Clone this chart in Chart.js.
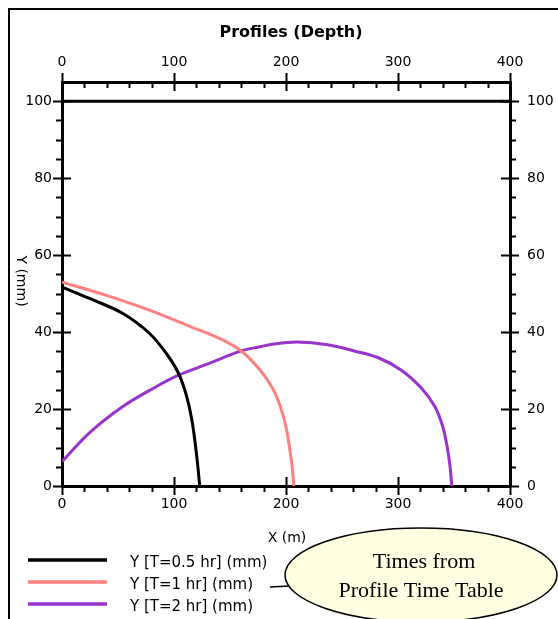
<!DOCTYPE html>
<html>
<head>
<meta charset="utf-8">
<script src="https://cdn.jsdelivr.net/npm/chart.js@4.4.0/dist/chart.umd.min.js"></script>
<style>
  html, body { margin: 0; padding: 0; background: #fff; }
  #wrap { width: 558px; height: 619px; }
</style>
</head>
<body>
<div id="wrap"><canvas id="profileChart" width="558" height="619"></canvas></div>
<script>
// values (x in m, y in mm)
let x05 = [0, 24, 54, 78, 93, 104, 111, 116, 120, 123];
let y05 = [51.7, 48.8, 44.9, 39.7, 34.5, 29.3, 23.6, 17.1, 8.5, 0];
let x1 = [0, 39, 78, 114, 141, 160, 177, 188, 195, 200, 203, 205.5, 207];
let y1 = [53, 49.6, 45.7, 41.5, 38.3, 35.1, 30.1, 25.4, 20.6, 15.4, 10.2, 5, 0];
let x2 = [0, 24, 54, 84, 104, 129, 160, 177, 189, 210, 237, 261, 282, 303, 321, 333, 340, 344, 346.5, 348];
let y2 = [6.3, 13.7, 20.6, 25.8, 28.8, 31.6, 35.1, 36.2, 36.9, 37.4, 36.7, 35.1, 33.4, 30.1, 25.4, 20.6, 15.4, 10, 5, 0];
let xSurface = [0, 400];
let ySurface = [100, 100];

let seriesNames = ['Y [T=0.5 hr] (mm)', 'Y [T=1 hr] (mm)', 'Y [T=2 hr] (mm)'];
let colorHex = ['#000000', '#FF8080', '#9933CC'];

let xTicks = [0, 100, 200, 300, 400];
let yTicks = [0, 20, 40, 60, 80, 100];
let xMinorStep = 20;
let yMinorStep = 5;

let pts = (xs, ys) => xs.map((v, i) => ({ x: v, y: ys[i] }));

let tickFont = { family: 'DejaVu Sans', size: 14 };

// draws the frame, title, axis titles, tick marks, legend and callout
let decorations = {
  id: 'decorations',
  beforeDraw(chart) {
    let c = chart.ctx;
    c.save();
    c.fillStyle = '#fff';
    c.fillRect(0, 0, chart.width, chart.height);
    c.strokeStyle = '#000';
    c.lineWidth = 2;
    c.beginPath();
    c.moveTo(9, chart.height);
    c.lineTo(9, 9);
    c.lineTo(chart.width, 9);
    c.stroke();
    c.restore();
  },
  afterDraw(chart) {
    let c = chart.ctx;
    let a = chart.chartArea;
    let sx = chart.scales.x, sy = chart.scales.y;
    c.save();
    c.strokeStyle = '#000';
    c.lineWidth = 2;
    c.beginPath();
    // x ticks, top and bottom
    for (let v = 0; v <= 400; v += xMinorStep) {
      let px = Math.round(sx.getPixelForValue(v)) + 0.5;
      let major = v % 100 === 0;
      if (major) {
        c.moveTo(px, a.bottom - 9); c.lineTo(px, a.bottom + 9);
        c.moveTo(px, a.top - 9); c.lineTo(px, a.top + 9);
      } else {
        c.moveTo(px, a.bottom); c.lineTo(px, a.bottom + 6);
        c.moveTo(px, a.top); c.lineTo(px, a.top + 6);
      }
    }
    // y ticks, left and right
    for (let v = 0; v <= 100; v += yMinorStep) {
      let py = Math.round(sy.getPixelForValue(v)) + 0.5;
      let major = v % 20 === 0;
      if (major) {
        c.moveTo(a.left - 9, py); c.lineTo(a.left + 9, py);
        c.moveTo(a.right - 9, py); c.lineTo(a.right + 9, py);
      } else {
        c.moveTo(a.left - 6, py); c.lineTo(a.left, py);
        c.moveTo(a.right, py); c.lineTo(a.right + 6, py);
      }
    }
    c.stroke();

    // title
    c.fillStyle = '#000';
    c.font = 'bold 16px "DejaVu Sans"';
    c.textAlign = 'center';
    c.textBaseline = 'middle';
    c.fillText('Profiles (Depth)', 291, 33);

    // axis titles
    c.font = '14px "DejaVu Sans"';
    c.fillText('X (m)', 287, 538);
    c.save();
    c.translate(21, 281);
    c.rotate(Math.PI / 2);
    c.fillText('Y (mm)', 0, 0);
    c.restore();

    // legend
    let legendY = [560, 582, 604];
    c.textAlign = 'left';
    c.font = '15px "DejaVu Sans"';
    seriesNames.forEach((name, i) => {
      c.strokeStyle = chart.data.datasets[i].borderColor;
      c.lineWidth = 3.5;
      c.beginPath();
      c.moveTo(28, legendY[i]);
      c.lineTo(107, legendY[i]);
      c.stroke();
      c.fillStyle = '#000';
      c.fillText(name, 130, legendY[i] + 3);
    });

    // callout
    c.strokeStyle = '#000';
    c.lineWidth = 1.5;
    c.beginPath();
    c.moveTo(270, 587);
    c.lineTo(290, 586);
    c.stroke();
    c.beginPath();
    c.ellipse(421, 575, 136, 47, 0, 0, Math.PI * 2);
    c.fillStyle = '#FFFFE1';
    c.fill();
    c.stroke();
    c.fillStyle = '#000';
    c.textAlign = 'center';
    c.textBaseline = 'alphabetic';
    c.font = '22px "Liberation Serif"';
    c.fillText('Times from', 424, 568);
    c.fillText('Profile Time Table', 421, 597);
    c.restore();
  }
};

let ctx = document.getElementById('profileChart').getContext('2d');

let lineSet = (label, data, color, width) => ({
  label: label,
  data: data,
  borderColor: color,
  backgroundColor: color,
  borderWidth: width,
  pointRadius: 0,
  tension: 0.35,
  fill: false,
  xAxisID: 'x',
  yAxisID: 'y'
});

let axisBase = {
  type: 'linear',
  grid: { display: true, drawOnChartArea: false, drawTicks: false },
  border: { display: true, color: '#000', width: 3 },
  ticks: { color: '#000', font: tickFont, maxRotation: 0 }
};

let myChart = new Chart(ctx, {
  type: 'line',
  data: {
    datasets: [
      lineSet(seriesNames[0], pts(x05, y05), colorHex[0], 3),
      lineSet(seriesNames[1], pts(x1, y1), colorHex[1], 3),
      lineSet(seriesNames[2], pts(x2, y2), colorHex[2], 3),
      lineSet('surface', pts(xSurface, ySurface), '#000000', 3)
    ]
  },
  options: {
    responsive: false,
    animation: false,
    layout: { padding: 0 },
    plugins: {
      legend: { display: false },
      title: { display: false },
      tooltip: { enabled: false }
    },
    scales: {
      x: Object.assign({}, axisBase, {
        position: 'bottom', min: 0, max: 400,
        ticks: Object.assign({}, axisBase.ticks, { padding: 10 }),
        afterBuildTicks: s => { s.ticks = xTicks.map(v => ({ value: v })); },
        afterFit: s => { s.height = 619 - 486; }
      }),
      x2: Object.assign({}, axisBase, {
        position: 'top', min: 0, max: 400,
        ticks: Object.assign({}, axisBase.ticks, { padding: 11 }),
        afterBuildTicks: s => { s.ticks = xTicks.map(v => ({ value: v })); },
        afterFit: s => { s.height = 82; }
      }),
      y: Object.assign({}, axisBase, {
        position: 'left', min: 0, max: 105,
        ticks: Object.assign({}, axisBase.ticks, { padding: 10 }),
        afterBuildTicks: s => { s.ticks = yTicks.map(v => ({ value: v })); },
        afterFit: s => { s.width = 62; }
      }),
      y2: Object.assign({}, axisBase, {
        position: 'right', min: 0, max: 105,
        ticks: Object.assign({}, axisBase.ticks, { padding: 17 }),
        afterBuildTicks: s => { s.ticks = yTicks.map(v => ({ value: v })); },
        afterFit: s => { s.width = 558 - 510; }
      })
    }
  },
  plugins: [decorations]
});
</script>
</body>
</html>
